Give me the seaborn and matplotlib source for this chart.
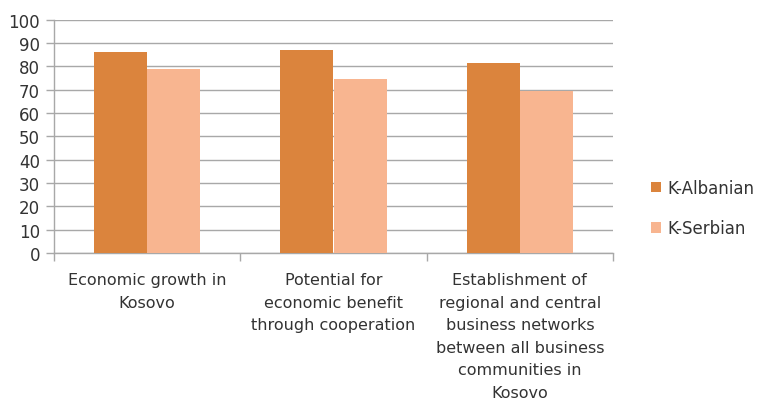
import matplotlib
matplotlib.use("Agg")
import matplotlib.pyplot as plt
import seaborn as sns
import pandas as pd
from matplotlib.ticker import FixedLocator
from matplotlib.patches import Patch

categories = [
    "Economic growth in\nKosovo",
    "Potential for\neconomic benefit\nthrough cooperation",
    "Establishment of\nregional and central\nbusiness networks\nbetween all business\ncommunities in\nKosovo",
]
series_names = ["K-Albanian", "K-Serbian"]
albanian = [86.0, 87.1, 81.4]
serbian = [79.0, 74.6, 69.6]
y_ticks = [0, 10, 20, 30, 40, 50, 60, 70, 80, 90, 100]
colors = ["#DB843D", "#F8B590"]

df = pd.DataFrame({
    "category": categories * 2,
    "group": [series_names[0]] * 3 + [series_names[1]] * 3,
    "value": albanian + serbian,
})

sns.set_theme(style="white")
plt.rcParams["font.family"] = ["DejaVu Sans"]

fig = plt.figure(figsize=(7.57, 4.06), dpi=100)
ax = fig.add_axes([54 / 757, 1 - 254 / 406, (613 - 54) / 757, (254 - 20.7) / 406])

sns.barplot(data=df, x="category", y="value", hue="group", palette=colors,
            width=0.57, ax=ax, legend=False, saturation=1, edgecolor="none",
            zorder=3)

ax.set_xlim(-0.5, 2.5)
ax.set_ylim(0, 100)
ax.set_yticks(y_ticks)
ax.yaxis.grid(True, color="#A8A8A8", linewidth=1.0, zorder=0)
ax.set_axisbelow(True)
ax.set_xlabel("")
ax.set_ylabel("")

for s in ["top", "right"]:
    ax.spines[s].set_visible(False)
for s in ["left", "bottom"]:
    ax.spines[s].set_visible(True)
    ax.spines[s].set_color("#A8A8A8")
    ax.spines[s].set_linewidth(1.0)

ax.tick_params(axis="y", which="major", left=True, length=6, width=1,
               color="#A8A8A8", labelsize=12, labelcolor="#333333", pad=4)
ax.tick_params(axis="x", which="major", length=0, labelsize=11.5,
               labelcolor="#333333", pad=14)
ax.xaxis.set_minor_locator(FixedLocator([-0.5, 0.5, 1.5, 2.5]))
ax.tick_params(axis="x", which="minor", bottom=True, length=6, width=1,
               color="#A8A8A8")
for lbl in ax.get_xticklabels():
    lbl.set_multialignment("center")
    lbl.set_linespacing(1.62)
    lbl.set_verticalalignment("top")

handles = [Patch(facecolor=c, edgecolor="none") for c in colors]
fig.legend(handles, series_names, loc="center left",
           bbox_to_anchor=(636 / 757, 1 - 209 / 406), frameon=False,
           fontsize=12, handlelength=0.6, handleheight=0.6,
           handletextpad=0.4, labelspacing=1.35, labelcolor="#333333")

fig.savefig("out.png", dpi=100)
